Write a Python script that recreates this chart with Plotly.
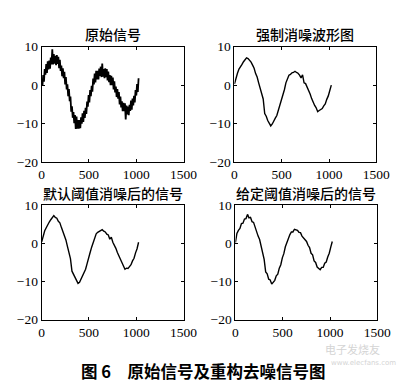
import numpy as np
import plotly.graph_objects as go

# ---------------- data ----------------
titles = ["原始信号", "强制消噪波形图", "默认阈值消噪后的信号", "给定阈值消噪后的信号"]
caption = "图 6　原始信号及重构去噪信号图"
x_ticks = [0, 500, 1000, 1500]
y_ticks = [-20, -10, 0, 10]

step_orig = 8     # sample spacing of the noisy list
step_den = 16     # sample spacing of the denoised lists

original = [
    1.6, -0.1, 2.6, 0.9, 4.2, 2.7, 5.5, 3.2, 6.2, 4.1, 6.4, 4.3, 7.2, 5.4, 9.3, 5.4,
    8.1, 5.6, 7.6, 5.2, 7.8, 5.5, 7.4, 4.4, 6.6, 3.7, 5.1, 2.3, 4.4, 1.8, 3.5, 0.2,
    2.1, -1.1, 0.2, -2.9, -1.0, -4.2, -3.0, -6.9, -5.5, -8.5, -7.0, -9.9, -7.8, -11.4,
    -8.2, -11.3, -9.1, -11.3, -9.1, -11.2, -8.4, -10.0, -7.3, -9.6, -6.7, -8.5, -5.9, -7.5,
    -4.3, -5.6, -2.6, -4.5, -1.3, -2.9, -0.2, -1.7, 1.7, 0.2, 3.0, 0.7, 3.7, 1.5, 3.7, 1.5,
    4.3, 2.4, 4.8, 2.1, 5.6, 2.2, 4.2, 1.8, 4.4, 2.1, 4.2, 1.2, 3.5, 0.8, 2.6, 0.0,
    2.4, 0.0, 2.0, -1.1, 1.0, -1.9, -0.4, -3.1, -1.0, -3.5, -1.8, -5.0, -3.0, -5.8,
    -4.2, -6.8, -4.6, -6.8, -4.7, -8.9, -5.3, -7.6, -5.6, -7.8, -5.1, -6.7, -4.0, -6.4,
    -3.5, -5.3, -2.8, -4.5, -1.3, -2.7, 0.3, -1.8, 1.8,
]

forced = [
    0.3, 2.0, 3.1, 4.2, 5.0, 5.4, 6.1, 6.6, 7.1, 6.9, 6.5, 6.0, 5.2, 4.4, 3.0, 2.1,
    0.6, -0.6, -2.4, -3.6, -7.4, -8.1, -9.2, -9.8, -10.6, -10.1, -9.5, -8.6, -7.9, -6.6,
    -5.4, -3.9, -2.3, -1.2, 0.6, 1.6, 2.6, 2.8, 3.2, 3.3, 3.6, 3.3, 3.1, 2.6, 1.9, 2.7,
    0.6, 0.4, -0.4, -1.5, -2.3, -3.5, -4.5, -5.3, -5.9, -6.9, -6.6, -6.4, -6.1, -5.4,
    -4.9, -3.7, -2.8, -1.4, 0.0,
]

default_thr = [
    0.4, 2.2, 3.3, 4.1, 5.1, 5.6, 6.2, 6.9, 7.3, 6.8, 6.6, 5.8, 5.4, 4.2, 3.1, 2.2,
    0.9, -0.8, -2.1, -4.0, -7.3, -8.2, -9.1, -9.9, -10.5, -10.2, -9.4, -8.8, -7.8, -6.8,
    -5.3, -4.1, -2.4, -1.0, 0.4, 1.4, 2.5, 2.9, 3.1, 3.5, 3.6, 3.2, 3.0, 2.4, 2.2, 1.1,
    1.6, 0.3, -0.4, -1.3, -2.4, -3.2, -4.4, -5.2, -6.0, -6.8, -6.5, -6.6, -6.1, -5.6,
    -4.6, -3.9, -2.5, -1.4, 0.3,
]

given_thr = [
    0.2, 2.6, 3.4, 3.9, 5.2, 5.3, 6.4, 6.5, 7.6, 6.7, 6.8, 5.7, 5.5, 4.1, 3.3, 1.9,
    1.0, -0.9, -2.0, -4.2, -7.5, -8.0, -9.4, -9.6, -10.7, -10.0, -9.7, -8.5, -8.1, -6.5,
    -5.6, -3.8, -2.7, -0.9, 0.3, 1.7, 2.3, 3.0, 3.0, 3.7, 3.5, 3.4, 2.9, 2.8, 1.9, 1.5,
    1.0, 0.5, -0.5, -1.1, -2.6, -3.0, -4.6, -5.0, -6.2, -6.6, -6.9, -6.3, -6.3, -5.2,
    -4.9, -3.6, -2.6, -1.0, 0.5,
]

series = [(original, step_orig), (forced, step_den), (default_thr, step_den), (given_thr, step_den)]

# ---------------- layout geometry ----------------
W, H = 414, 383
# axes boxes in pixels: (left, right, top, bottom)
boxes = [(32, 180, 33, 153), (233, 381, 33, 153), (32, 180, 198, 317), (234, 382, 198, 317)]
title_y = [20, 20, 185, 185]

serif = "Liberation Serif, Times New Roman, serif"
cjk = "Noto Sans CJK SC, sans-serif"

fig = go.Figure()
annotations = []
layout_axes = {}
for i, ((vals, step), (l, r, t, b)) in enumerate(zip(series, boxes)):
    idx = "" if i == 0 else str(i + 1)
    xs = np.arange(len(vals)) * step
    fig.add_trace(go.Scatter(
        x=xs, y=vals, mode="lines",
        line=dict(color="black", width=1.8 if i == 0 else 1.4),
        xaxis="x" + idx, yaxis="y" + idx, showlegend=False, hoverinfo="skip",
    ))
    common = dict(showline=True, linecolor="black", linewidth=1, mirror="ticks",
                  ticks="inside", ticklen=3, tickcolor="black", showgrid=False,
                  zeroline=False, tickfont=dict(family=serif, size=13.5, color="black"))
    layout_axes["xaxis" + idx] = dict(domain=[l / W, r / W], range=[0, 1500],
                                      tickvals=x_ticks, anchor="y" + idx, **common)
    layout_axes["yaxis" + idx] = dict(domain=[1 - b / H, 1 - t / H], range=[-20, 10],
                                      tickvals=y_ticks, anchor="x" + idx, **common)
    annotations.append(dict(text=titles[i], x=(l + r) / 2 / W, y=1 - title_y[i] / H,
                            xref="paper", yref="paper", showarrow=False,
                            xanchor="center", yanchor="middle",
                            font=dict(family=cjk, size=14, color="black", weight=500)))

annotations.append(dict(text=caption, x=200 / W, y=1 - 371 / H, xref="paper", yref="paper",
                        showarrow=False, xanchor="center", yanchor="middle",
                        font=dict(family=cjk, size=16.5, color="black", weight="bold")))
# watermark
annotations.append(dict(text="电子发烧友", x=356 / W, y=1 - 347.5 / H, xref="paper", yref="paper",
                        showarrow=False, xanchor="center", yanchor="middle",
                        font=dict(family=cjk, size=11, color="#d4d4d4")))
annotations.append(dict(text="www.elecfans.com", x=368 / W, y=1 - 362 / H, xref="paper", yref="paper",
                        showarrow=False, xanchor="center", yanchor="middle",
                        font=dict(family="DejaVu Sans", size=7, color="#d4d4d4")))

fig.update_layout(
    width=W, height=H, margin=dict(l=0, r=0, t=0, b=0),
    paper_bgcolor="white", plot_bgcolor="white",
    annotations=annotations, **layout_axes,
)

fig.write_html("out.html")
